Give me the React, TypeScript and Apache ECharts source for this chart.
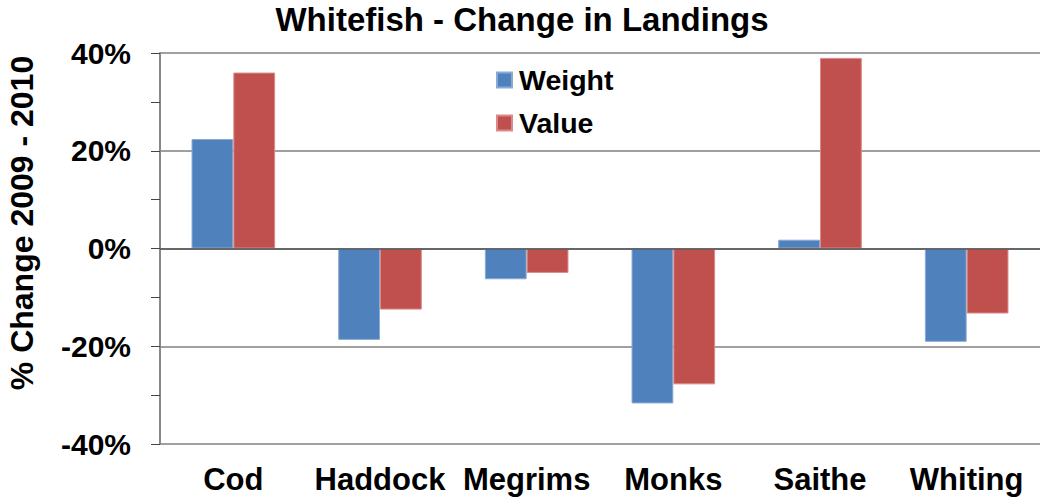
import React, { useEffect, useRef } from "react";
import * as echarts from "echarts";

const categories = ["Cod", "Haddock", "Megrims", "Monks", "Saithe", "Whiting"];
const weightValues = [22.4, -18.7, -6.3, -31.7, 1.8, -19.1];
const valueValues = [36.0, -12.5, -5.0, -27.8, 39.0, -13.3];
const seriesNames = ["Weight", "Value"];
const titleText = "Whitefish - Change in Landings";
const yAxisTitle = "% Change 2009 - 2010";

const FONT = "'Liberation Sans', Arial, sans-serif";

export default function App() {
  const ref = useRef<HTMLDivElement>(null);
  useEffect(() => {
    if (!ref.current) return;
    const chart = echarts.init(ref.current, null, { renderer: "svg" });
    chart.setOption({
      animation: false,
      backgroundColor: "#ffffff",
      title: {
        text: titleText,
        left: "center",
        top: 2,
        padding: 0,
        textStyle: { fontFamily: FONT, fontWeight: "bold", fontSize: 33, lineHeight: 34, color: "#000" },
      },
      legend: {
        orient: "vertical",
        left: 496,
        top: 65,
        padding: 0,
        itemWidth: 15,
        itemHeight: 15,
        itemGap: 13,
        icon: "rect",
        data: seriesNames,
        textStyle: { fontFamily: FONT, fontWeight: "bold", fontSize: 28.5, color: "#000", lineHeight: 30, padding: [0, 0, 0, 2] },
      },
      grid: { left: 160, right: 4, top: 53, bottom: 58, containLabel: false },
      xAxis: {
        type: "category",
        data: categories,
        axisLine: { show: false, onZero: false },
        axisTick: { show: false },
        axisLabel: {
          interval: 0,
          margin: 20,
          fontFamily: FONT,
          fontWeight: "bold",
          fontSize: 31,
          color: "#000",
        },
      },
      yAxis: {
        type: "value",
        min: -40,
        max: 40,
        interval: 20,
        axisLine: { show: true, lineStyle: { color: "#888", width: 2 } },
        axisTick: { show: true, length: 9, lineStyle: { color: "#444", width: 1 } },
        minorTick: { show: true, splitNumber: 2, length: 9, lineStyle: { color: "#444", width: 1 } },
        splitLine: { show: true, lineStyle: { color: "#a0a0a0", width: 2 } },
        axisLabel: {
          formatter: (v: number) => `${v}%`,
          margin: 29,
          fontFamily: FONT,
          fontWeight: "bold",
          fontSize: 30,
          color: "#000",
        },
      },
      graphic: [
        {
          type: "text",
          x: 22,
          y: 223,
          rotation: Math.PI / 2,
          style: {
            text: yAxisTitle,
            fontFamily: FONT,
            fontWeight: "bold",
            fontSize: 32,
            fill: "#000",
            align: "center",
            verticalAlign: "middle",
          },
        },
      ],
      series: [
        {
          name: seriesNames[0],
          type: "bar",
          data: weightValues,
          barGap: "0%",
          barCategoryGap: "43%",
          itemStyle: { color: "#4F81BD", borderColor: "#8AAAD6", borderWidth: 1 },
          markLine: {
            silent: true,
            symbol: "none",
            label: { show: false },
            lineStyle: { color: "#555", width: 1.5, type: "solid" },
            data: [{ yAxis: 0 }],
            z: 10,
          },
        },
        {
          name: seriesNames[1],
          type: "bar",
          data: valueValues,
          barGap: "0%",
          barCategoryGap: "43%",
          itemStyle: { color: "#C0504D", borderColor: "#DA8A88", borderWidth: 1 },
        },
      ],
    });
    return () => chart.dispose();
  }, []);
  return <div ref={ref} style={{ width: 1044, height: 502, position: "absolute", left: 0, top: 0 }} />;
}
